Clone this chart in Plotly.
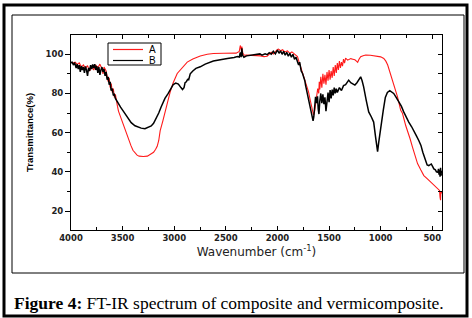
import plotly.graph_objects as go

# ---------------- data ----------------
wn_A = [4000, 3980, 3960, 3940, 3920, 3900, 3880, 3860, 3840, 3820, 3800, 3780, 3760, 3740, 3720,
        3700, 3690, 3680, 3660, 3640, 3630, 3620, 3610, 3600, 3590, 3580, 3570, 3560, 3550, 3540,
        3520, 3500, 3480, 3460, 3440, 3420, 3400, 3380, 3360, 3340, 3300, 3260, 3230, 3200, 3180,
        3165, 3150, 3136, 3110, 3087, 3060, 3039, 3010, 2971, 2920, 2874, 2820, 2748, 2680, 2621,
        2520, 2400, 2370, 2360, 2350, 2345, 2335, 2320, 2300, 2250, 2200, 2165, 2130, 2100, 2080,
        2060, 2040, 2020, 2000, 1990, 1970, 1950, 1930, 1903, 1880, 1860, 1845, 1825, 1806, 1790,
        1775, 1757, 1745, 1728, 1715, 1699, 1680, 1665, 1650, 1640, 1630, 1620, 1610, 1600, 1595,
        1590, 1580, 1570, 1560, 1550, 1540, 1530, 1520, 1510, 1500, 1490, 1480, 1470, 1460, 1450,
        1440, 1430, 1420, 1410, 1400, 1390, 1380, 1370, 1360, 1350, 1340, 1320, 1300, 1290, 1270,
        1250, 1235, 1223, 1210, 1194, 1170, 1145, 1100, 1060, 1029, 1000, 970, 950, 932, 915,
        903, 886, 874, 855, 837, 806, 789, 757, 740, 716, 692, 667, 643, 612, 582,
        550, 514, 480, 449, 430, 425, 420, 417, 412, 405]
tr_A = [96.0, 95.5, 96.0, 94.8, 95.6, 93.5, 94.6, 92.8, 94.2, 91.5, 93.8, 92.0, 94.5, 93.0, 95.0,
        92.5, 90.0, 93.5, 91.5, 86.0, 88.0, 83.0, 85.0, 80.5, 82.5, 78.0, 79.5, 75.0, 73.5, 71.0,
        68.0, 64.5, 61.5, 59.0, 56.5, 53.5, 51.0, 49.5, 48.5, 48.0, 47.8, 48.0, 48.8, 50.0, 51.5,
        53.0, 56.0, 61.0, 66.0, 71.4, 76.5, 80.8, 85.5, 90.2, 93.5, 96.0, 97.6, 99.1, 100.0, 100.4,
        100.5, 100.6, 101.5, 104.5, 102.0, 104.0, 100.5, 99.5, 99.6, 99.6, 99.3, 99.2, 98.8, 99.0, 100.0,
        101.0, 100.2, 101.5, 102.5, 102.7, 101.8, 102.3, 101.2, 101.7, 100.5, 101.2, 100.5, 99.5, 98.8, 96.0,
        93.5, 91.0, 89.0, 86.0, 83.0, 80.8, 76.0, 72.0, 69.0, 71.0, 75.0, 78.5, 82.5, 80.0, 86.0,
        82.0, 88.5, 83.0, 90.0, 85.0, 89.5, 84.5, 91.0, 86.5, 92.0, 87.0, 91.5, 88.0, 93.5, 89.0,
        94.5, 90.5, 95.5, 92.0, 96.5, 93.0, 96.0, 94.0, 97.5, 95.5, 98.0, 97.0, 97.6, 97.8, 97.5,
        97.2, 96.5, 95.9, 97.5, 98.8, 99.3, 99.6, 99.5, 99.3, 99.1, 98.7, 97.9, 96.5, 94.5, 91.5,
        89.4, 86.8, 84.3, 81.0, 78.3, 71.4, 69.9, 63.5, 61.2, 57.0, 52.6, 48.0, 44.2, 41.0, 38.1,
        36.5, 34.7, 33.0, 31.3, 30.5, 27.0, 25.5, 30.0, 29.0, 30.0]

wn_B = [4000, 3990, 3975, 3965, 3950, 3940, 3930, 3920, 3910, 3900, 3890, 3880, 3870, 3860, 3850,
        3840, 3830, 3820, 3810, 3800, 3790, 3780, 3770, 3760, 3750, 3740, 3730, 3720, 3710, 3700,
        3690, 3680, 3670, 3660, 3650, 3640, 3630, 3620, 3612, 3600, 3590, 3580, 3570, 3560, 3544,
        3520, 3500, 3476, 3450, 3417, 3380, 3350, 3320, 3284, 3250, 3223, 3200, 3175, 3150, 3126,
        3090, 3058, 3030, 3010, 2985, 2960, 2935, 2920, 2905, 2895, 2883, 2870, 2860, 2845, 2820,
        2790, 2748, 2700, 2621, 2550, 2485, 2420, 2388, 2370, 2360, 2352, 2345, 2338, 2325, 2300,
        2250, 2200, 2170, 2150, 2120, 2100, 2080, 2060, 2040, 2020, 2000, 1985, 1970, 1955, 1940,
        1925, 1910, 1895, 1880, 1865, 1850, 1835, 1820, 1806, 1795, 1785, 1770, 1757, 1745, 1735,
        1728, 1715, 1705, 1699, 1680, 1665, 1655, 1648, 1640, 1631, 1622, 1612, 1605, 1598, 1590,
        1580, 1570, 1560, 1550, 1540, 1530, 1520, 1510, 1500, 1490, 1480, 1470, 1460, 1450, 1440,
        1430, 1420, 1400, 1380, 1360, 1340, 1310, 1290, 1272, 1250, 1230, 1210, 1194, 1180, 1165,
        1140, 1116, 1090, 1068, 1050, 1039, 1030, 1019, 1005, 990, 975, 955, 935, 912, 895,
        874, 850, 825, 800, 777, 750, 728, 700, 680, 655, 631, 610, 592, 575, 563,
        550, 534, 520, 510, 500, 485, 470, 460, 446, 440, 435, 430, 425, 420, 415,
        410, 405]
tr_B = [95.5, 96.0, 94.5, 95.8, 93.0, 95.0, 92.5, 94.5, 91.0, 94.0, 92.0, 93.5, 90.5, 93.8, 92.0,
        89.0, 93.0, 91.5, 94.5, 92.5, 94.8, 93.0, 95.0, 92.0, 94.0, 90.5, 93.5, 89.5, 92.0, 93.5,
        91.0, 92.5, 89.0, 91.0, 87.0, 88.5, 84.5, 86.0, 81.5, 82.5, 79.0, 79.5, 77.5, 76.5, 74.9,
        73.0, 71.5, 69.7, 67.5, 65.1, 63.5, 62.9, 62.3, 62.0, 62.6, 63.4, 64.8, 67.2, 70.0, 73.2,
        77.5, 80.0, 83.0, 84.5, 85.3, 84.8, 83.0, 82.0, 83.0, 85.5, 86.0, 87.2, 87.0, 90.0, 91.5,
        92.8, 93.6, 95.0, 96.6, 97.4, 97.9, 98.4, 98.8, 98.6, 101.0, 98.5, 103.0, 99.5, 98.5, 99.2,
        99.5, 99.7, 100.2, 99.6, 100.3, 99.8, 100.8, 100.0, 101.5, 100.2, 102.2, 100.5, 101.8, 100.0, 101.5,
        99.5, 101.0, 99.0, 100.5, 98.5, 100.0, 97.5, 98.5, 96.2, 94.5, 96.0, 91.5, 90.2, 88.5, 86.5,
        84.3, 81.0, 78.0, 77.4, 73.0, 69.7, 66.0, 68.0, 72.5, 78.3, 75.0, 78.5, 72.0, 69.5, 76.0,
        80.0, 75.0, 79.5, 74.5, 78.0, 71.0, 76.5, 80.5, 75.5, 81.7, 77.5, 82.0, 79.0, 83.0, 80.0,
        82.5, 80.5, 83.0, 81.5, 84.0, 84.5, 86.8, 85.5, 85.1, 84.3, 85.5, 87.5, 88.5, 86.5, 83.4,
        76.5, 70.6, 68.0, 65.4, 58.0, 52.0, 50.3, 55.0, 61.2, 66.5, 71.4, 78.0, 80.5, 81.4, 80.8,
        80.0, 78.0, 75.7, 73.5, 70.6, 67.5, 65.4, 63.0, 61.2, 58.5, 56.0, 53.5, 50.0, 47.0, 44.9,
        43.5, 43.2, 43.8, 44.0, 43.0, 41.5, 41.0, 40.0, 39.8, 41.5, 38.5, 41.0, 37.5, 42.0, 38.0,
        40.5, 39.0]

series_names = ["A", "B"]
series_colors = ["#ff1a1a", "#000000"]
series_widths = [1.1, 1.5]
x_ticks = [4000, 3500, 3000, 2500, 2000, 1500, 1000, 500]
y_ticks = [20, 40, 60, 80, 100]

# ---------------- figure ----------------
W, H = 472, 318
L, R, T, B = 71, 30, 35, 88
pw, ph = W - L - R, H - T - B


def px(xp):
    return (xp - L) / pw


def py(yp):
    return (H - B - yp) / ph


fig = go.Figure()
for wn, tr, nm, col, lw in [(wn_A, tr_A, series_names[0], series_colors[0], series_widths[0]),
                            (wn_B, tr_B, series_names[1], series_colors[1], series_widths[1])]:
    fig.add_trace(go.Scatter(x=wn, y=tr, name=nm, mode="lines", showlegend=False,
                             line=dict(color=col, width=lw)))
# helper trace so the right-hand mirrored y axis is drawn
fig.add_trace(go.Scatter(x=[None], y=[None], yaxis="y2", showlegend=False, hoverinfo="skip"))

tickfont = dict(family="DejaVu Sans", size=8.5, color="#222222", weight="bold")

fig.update_layout(
    width=W, height=H,
    margin=dict(l=L, r=R, t=T, b=B),
    paper_bgcolor="white", plot_bgcolor="white",
    showlegend=False,
    xaxis=dict(range=[4000, 406], tickvals=x_ticks, ticktext=[str(v) for v in x_ticks],
               ticks="inside", ticklen=4, tickcolor="black", tickwidth=1,
               minor=dict(dtick=250, ticks="inside", ticklen=3, tickcolor="black"),
               showline=True, linecolor="black", linewidth=1, mirror="ticks",
               showgrid=False, zeroline=False, tickfont=tickfont,
               title=dict(text="Wavenumber (cm<sup>-1</sup>)", standoff=5,
                          font=dict(family="DejaVu Sans", size=12, color="#222222"))),
    yaxis=dict(range=[10.3, 109.85], tickvals=y_ticks, ticktext=[str(v) for v in y_ticks],
               ticks="outside", ticklen=5, tickcolor="black", tickwidth=1,
               minor=dict(dtick=10, ticks="outside", ticklen=3, tickcolor="black"),
               showline=True, linecolor="black", linewidth=1, mirror=False,
               showgrid=False, zeroline=False, tickfont=tickfont,
               title=dict(text="Transmittance(%)", standoff=10,
                          font=dict(family="Liberation Sans Narrow, Arial", size=9.5,
                                    color="black", weight="bold"))),
    yaxis2=dict(range=[10.3, 109.85], overlaying="y", side="right", tickvals=y_ticks,
                showticklabels=False, ticks="inside", ticklen=4, tickcolor="black",
                minor=dict(dtick=10, ticks="inside", ticklen=4, tickcolor="black"),
                showline=True, linecolor="black", linewidth=1, showgrid=False, zeroline=False),
)

# legend box (compact, like the original)
fig.add_shape(type="rect", xref="paper", yref="paper",
              x0=px(108), x1=px(161), y0=py(65), y1=py(43),
              line=dict(color="black", width=1), fillcolor="rgba(255,255,255,0)")
for i, yy in enumerate([49.5, 60.5]):
    fig.add_shape(type="line", xref="paper", yref="paper",
                  x0=px(113), x1=px(143), y0=py(yy), y1=py(yy),
                  line=dict(color=series_colors[i], width=1.2))
    fig.add_annotation(xref="paper", yref="paper", x=px(147), y=py(yy), xanchor="left",
                       yanchor="middle", showarrow=False, text=series_names[i],
                       font=dict(family="Arial, Liberation Sans", size=10, color="black"))

# figure frames
fig.add_shape(type="rect", xref="paper", yref="paper",
              x0=px(4), x1=px(467), y0=py(316), y1=py(5),
              line=dict(color="black", width=3))
fig.add_shape(type="rect", xref="paper", yref="paper",
              x0=px(12), x1=px(464), y0=py(273), y1=py(15),
              line=dict(color="black", width=1))

fig.add_annotation(xref="paper", yref="paper", x=px(12), y=py(303), xanchor="left", yanchor="middle",
                   showarrow=False,
                   text="<b>Figure 4:</b> FT-IR spectrum of composite and vermicomposite.",
                   font=dict(family="Liberation Serif", size=17.5, color="black"))

fig.write_html("out.html", config={"displayModeBar": False},
               post_script="document.body.style.margin='0';document.body.style.padding='0';")
